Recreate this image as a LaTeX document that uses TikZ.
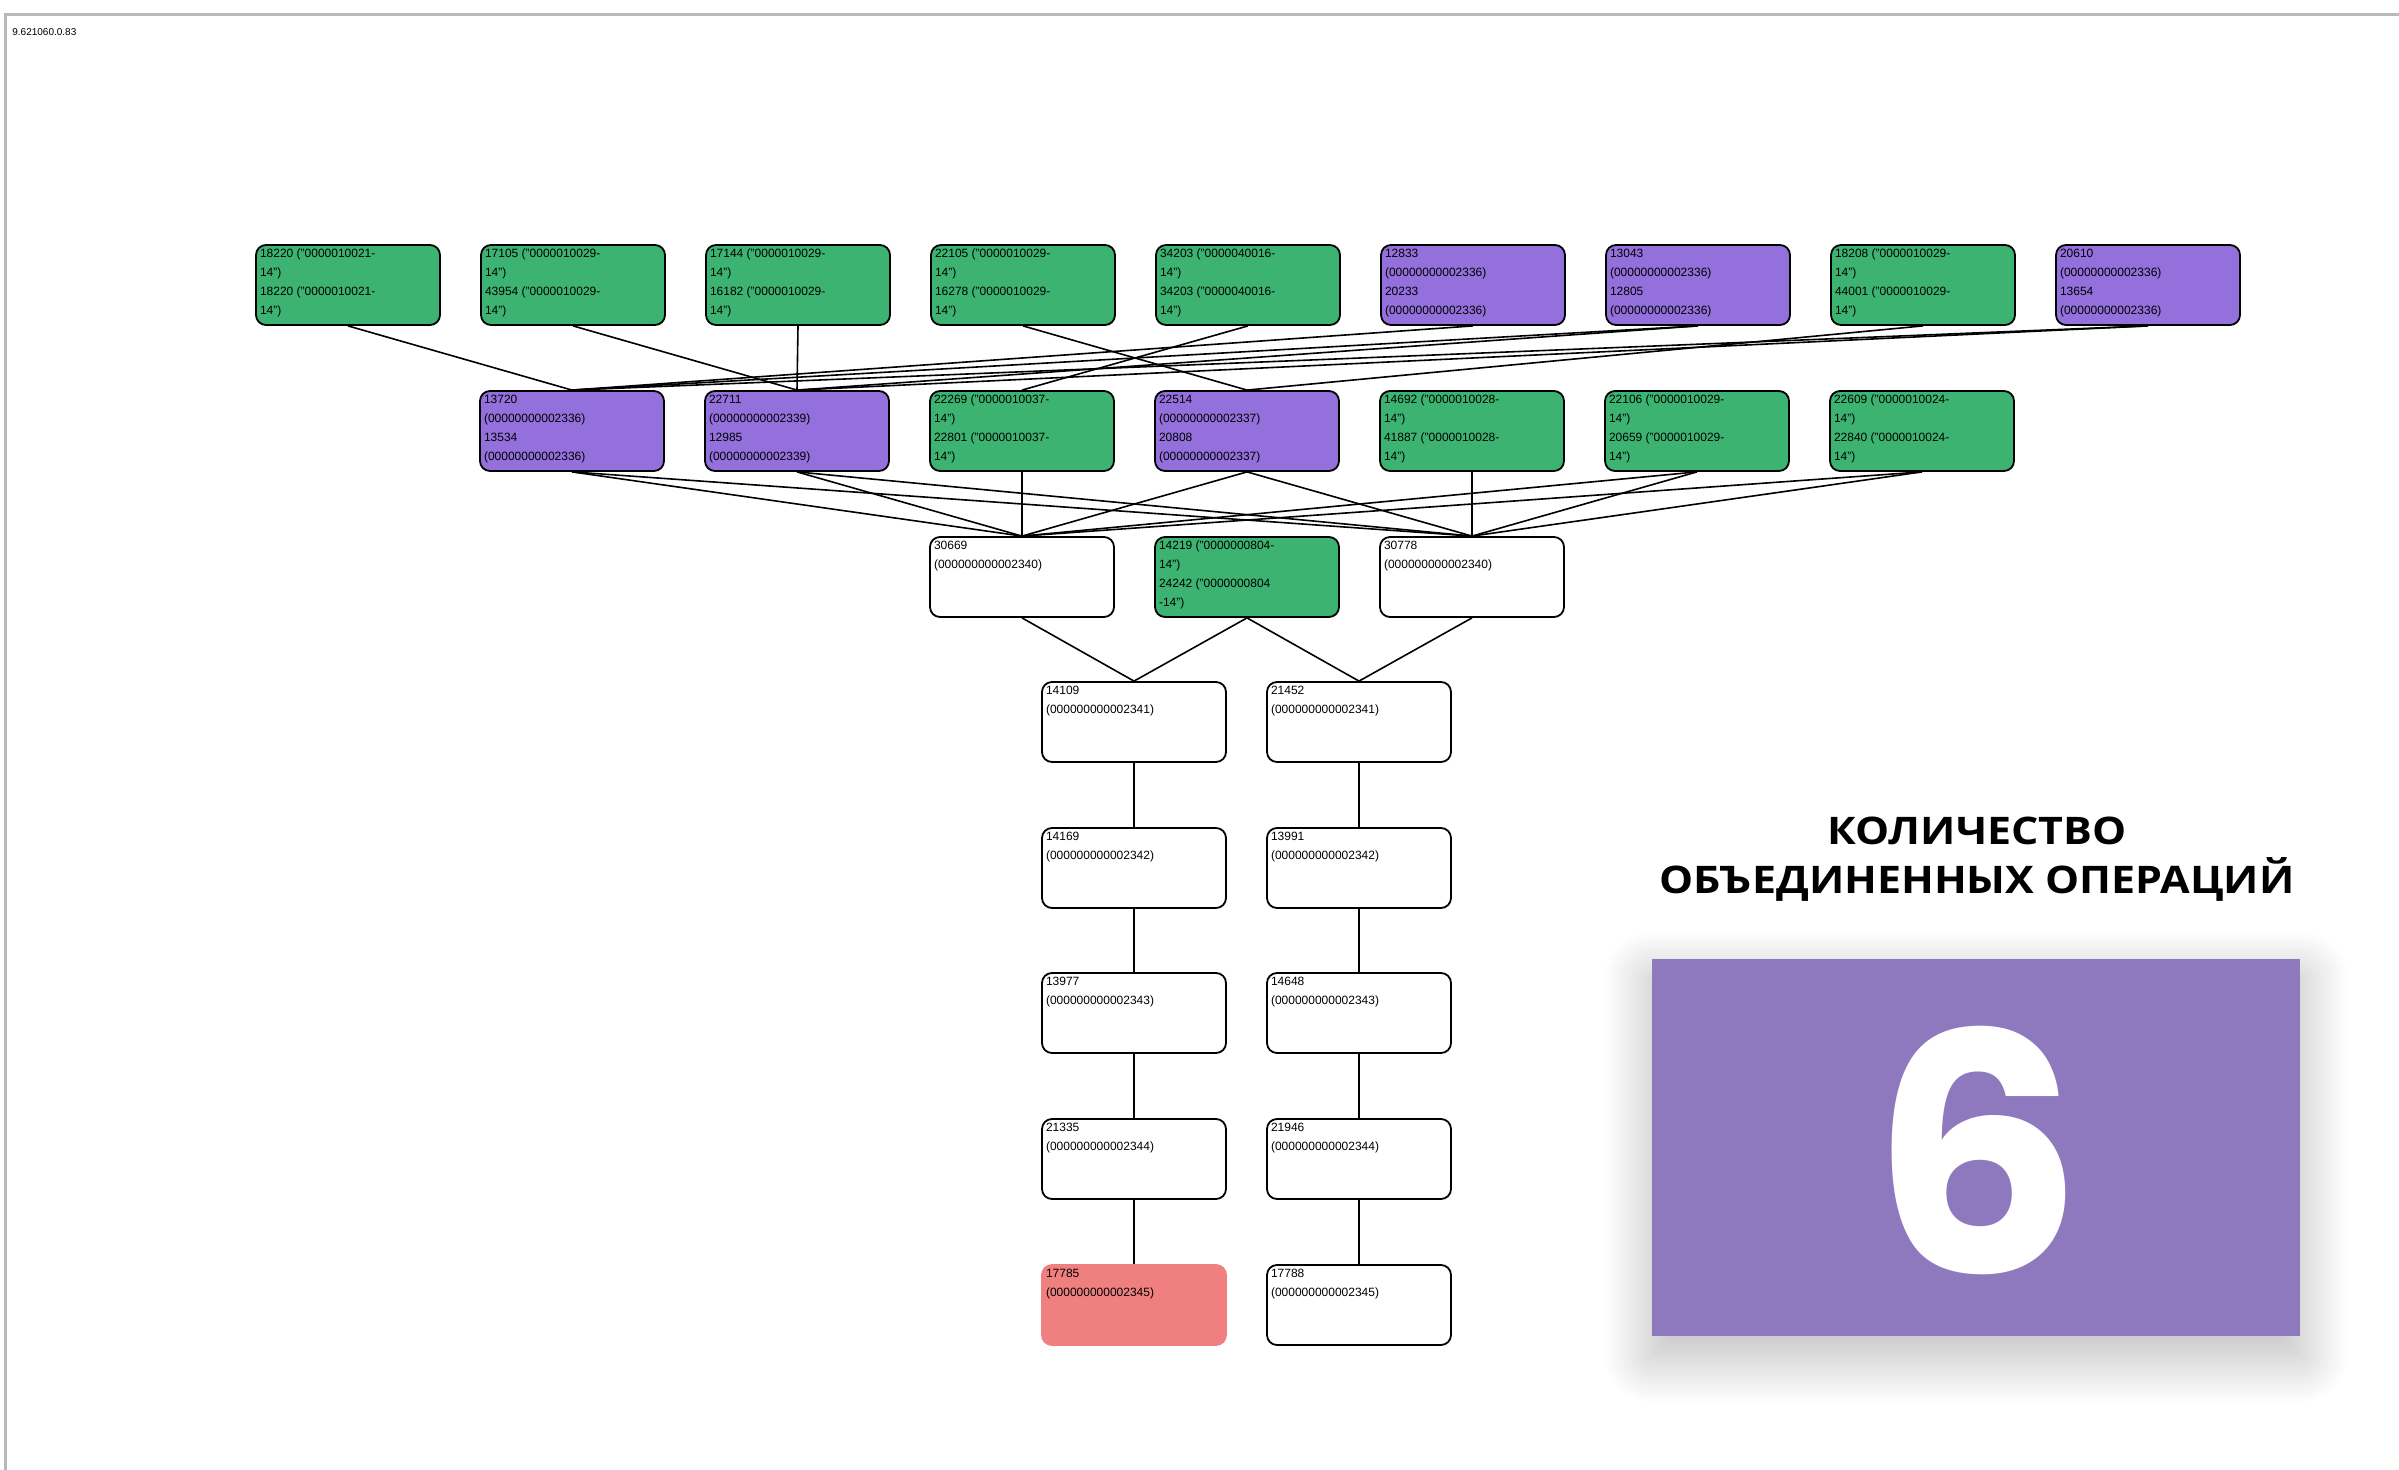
\documentclass[tikz,border=0pt]{standalone}
\usepackage{fontspec}
\setmainfont{Liberation Sans}
\newfontfamily\titlefont{Open Sans}
\newfontfamily\digitfont{Poppins}
\usetikzlibrary{shadows.blur}

\definecolor{opgreen}{HTML}{3CB371}
\definecolor{opviolet}{HTML}{9370DB}
\definecolor{opred}{HTML}{F08080}
\definecolor{panelviolet}{HTML}{8E79BE}

\newcommand{\optext}[1]{\parbox[c][36pt][t]{88pt}{\raggedright #1}}

\tikzset{
	opbox/.style={draw=black, line width=0.9pt, rounded corners=5pt, inner sep=2pt,
		font=\fontsize{6}{9.5}\selectfont},
	greenbox/.style={opbox, fill=opgreen},
	violetbox/.style={opbox, fill=opviolet},
	whitebox/.style={opbox, fill=white},
	redbox/.style={opbox, draw=opred, fill=opred},
	link/.style={line width=0.8pt, black},
}

\begin{document}
\begin{tikzpicture}[x=0.5pt, y=-0.5pt]
		
		\useasboundingbox (0,0) rectangle (2399,1470);
		
		% frame
		\draw[gray!55, line width=1.5pt] (5,1470) -- (5,15) -- (2399,15);
		\node[anchor=west, inner sep=0pt, font=\fontsize{5}{6}\selectfont]
		(stamp) at (12,32) {9.621060.0.83};
		
		% Top row
		
		\node[greenbox] (T1) at (348,285)
		{\optext{18220 ("0000010021-\\14")\\18220 ("0000010021-\\14")}};
		\node[greenbox] (T2) at (573,285)
		{\optext{17105 ("0000010029-\\14")\\43954 ("0000010029-\\14")}};
		\node[greenbox] (T3) at (798,285)
		{\optext{17144 ("0000010029-\\14")\\16182 ("0000010029-\\14")}};
		\node[greenbox] (T4) at (1023,285)
		{\optext{22105 ("0000010029-\\14")\\16278 ("0000010029-\\14")}};
		\node[greenbox] (T5) at (1248,285)
		{\optext{34203 ("0000040016-\\14")\\34203 ("0000040016-\\14")}};
		\node[violetbox] (T6) at (1473,285)
		{\optext{12833\\(00000000002336)\\20233\\(00000000002336)}};
		\node[violetbox] (T7) at (1698,285)
		{\optext{13043\\(00000000002336)\\12805\\(00000000002336)}};
		\node[greenbox] (T8) at (1923,285)
		{\optext{18208 ("0000010029-\\14")\\44001 ("0000010029-\\14")}};
		\node[violetbox] (T9) at (2148,285)
		{\optext{20610\\(00000000002336)\\13654\\(00000000002336)}};
		
		% Middle row
		
		\node[violetbox] (M1) at (572,431)
		{\optext{13720\\(00000000002336)\\13534\\(00000000002336)}};
		\node[violetbox] (M2) at (797,431)
		{\optext{22711\\(00000000002339)\\12985\\(00000000002339)}};
		\node[greenbox] (M3) at (1022,431)
		{\optext{22269 ("0000010037-\\14")\\22801 ("0000010037-\\14")}};
		\node[violetbox] (M4) at (1247,431)
		{\optext{22514\\(00000000002337)\\20808\\(00000000002337)}};
		\node[greenbox] (M5) at (1472,431)
		{\optext{14692 ("0000010028-\\14")\\41887 ("0000010028-\\14")}};
		\node[greenbox] (M6) at (1697,431)
		{\optext{22106 ("0000010029-\\14")\\20659 ("0000010029-\\14")}};
		\node[greenbox] (M7) at (1922,431)
		{\optext{22609 ("0000010024-\\14")\\22840 ("0000010024-\\14")}};
		
		% Merge row
		
		\node[whitebox] (L1) at (1022,577)
		{\optext{30669\\(000000000002340)}};
		\node[greenbox] (L2) at (1247,577)
		{\optext{14219 ("0000000804-\\14")\\24242 ("0000000804\\-14")}};
		\node[whitebox] (L3) at (1472,577)
		{\optext{30778\\(000000000002340)}};
		
		% Chains
		
		\node[whitebox] (A1) at (1134,722) {\optext{14109\\(000000000002341)}};
		\node[whitebox] (A2) at (1134,868) {\optext{14169\\(000000000002342)}};
		\node[whitebox] (A3) at (1134,1013) {\optext{13977\\(000000000002343)}};
		\node[whitebox] (A4) at (1134,1159) {\optext{21335\\(000000000002344)}};
		\node[redbox] (A5) at (1134,1305) {\optext{17785\\(000000000002345)}};
		
		\node[whitebox] (B1) at (1359,722) {\optext{21452\\(000000000002341)}};
		\node[whitebox] (B2) at (1359,868) {\optext{13991\\(000000000002342)}};
		\node[whitebox] (B3) at (1359,1013) {\optext{14648\\(000000000002343)}};
		\node[whitebox] (B4) at (1359,1159) {\optext{21946\\(000000000002344)}};
		\node[whitebox] (B5) at (1359,1305) {\optext{17788\\(000000000002345)}};
		
		% EDGE top -> middle
		
		\draw[link] (T1.south) -- (M1.north);
		\draw[link] (T2.south) -- (M2.north);
		\draw[link] (T3.south) -- (M2.north);
		\draw[link] (T4.south) -- (M4.north);
		\draw[link] (T5.south) -- (M3.north);
		\draw[link] (T6.south) -- (M1.north);
		\draw[link] (T7.south) -- (M1.north);
		\draw[link] (T7.south) -- (M2.north);
		\draw[link] (T8.south) -- (M4.north);
		\draw[link] (T9.south) -- (M1.north);
		\draw[link] (T9.south) -- (M2.north);
		
		% EDGE middle -> merge
		
		\draw[link] (M1.south) -- (L1.north);
		\draw[link] (M1.south) -- (L3.north);
		\draw[link] (M2.south) -- (L1.north);
		\draw[link] (M2.south) -- (L3.north);
		\draw[link] (M3.south) -- (L1.north);
		\draw[link] (M4.south) -- (L1.north);
		\draw[link] (M4.south) -- (L3.north);
		\draw[link] (M5.south) -- (L3.north);
		\draw[link] (M6.south) -- (L1.north);
		\draw[link] (M6.south) -- (L3.north);
		\draw[link] (M7.south) -- (L1.north);
		\draw[link] (M7.south) -- (L3.north);
		
		% EDGE merge -> chains
		
		\draw[link] (L1.south) -- (A1.north);
		\draw[link] (L2.south) -- (A1.north);
		\draw[link] (L2.south) -- (B1.north);
		\draw[link] (L3.south) -- (B1.north);
		
		\draw[link] (A1) -- (A2);
		\draw[link] (A2) -- (A3);
		\draw[link] (A3) -- (A4);
		\draw[link] (A4) -- (A5);
		\draw[link] (B1) -- (B2);
		\draw[link] (B2) -- (B3);
		\draw[link] (B3) -- (B4);
		\draw[link] (B4) -- (B5);
		
		% counter panel
		
		\node[align=center, font=\titlefont\bfseries\fontsize{19}{24.5}\selectfont]
		(title) at (1977,859) {\scalebox{1.13}[1]{КОЛИЧЕСТВО}\\\scalebox{1.13}[1]{ОБЪЕДИНЕННЫХ ОПЕРАЦИЙ}};
		\node[fill=panelviolet, minimum width=324pt, minimum height=188.5pt, inner sep=0pt,
		blur shadow={shadow blur steps=30, shadow blur radius=24pt, shadow xshift=0pt,
			shadow yshift=-10pt, shadow opacity=28}]
		(panel) at (1976,1147) {};
		\node[text=white, inner sep=0pt, font=\digitfont\bfseries\fontsize{166}{166}\selectfont]
		(count) at (1977,1150) {6};
		
	\end{tikzpicture}
\end{document}
